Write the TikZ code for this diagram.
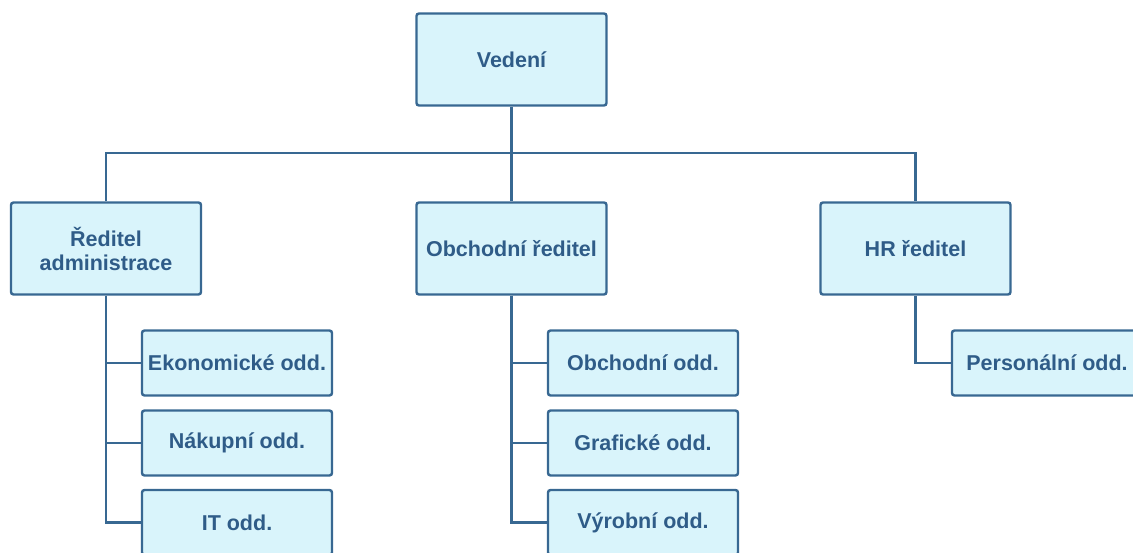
\documentclass[tikz,border=0pt]{standalone}
\usepackage{fontspec}
\setmainfont{Liberation Sans}
\definecolor{boxline}{HTML}{386892}
\definecolor{boxfill}{HTML}{D9F4FB}
\definecolor{boxtext}{HTML}{2F5C88}
\begin{document}
\begin{tikzpicture}[x=1pt,y=-1pt,
  orgbox/.style={draw=boxline, fill=boxfill, line width=2.4pt, rounded corners=2.5pt,
    text=boxtext, font=\bfseries\fontsize{21.5}{24}\selectfont, align=center,
    inner sep=0pt, minimum width=190pt},
  bigbox/.style={orgbox, minimum height=92pt},
  smallbox/.style={orgbox, minimum height=65pt},
  conn/.style={draw=boxline, line width=2.4pt}]
\useasboundingbox (0,0) rectangle (1133,553);
\clip (0,0) rectangle (1133,553);
\node[bigbox] (ved) at (511.5,59.5) {Vedení};
\node[bigbox] (adm) at (106,248.5) {Ředitel\\administrace};
\node[bigbox] (obc) at (511.5,248.5) {Obchodní ředitel};
\node[bigbox] (hr) at (915.5,248.5) {HR ředitel};
\node[smallbox] (eko) at (237,363) {Ekonomické odd.};
\node[smallbox] (nak) at (237,443) {Nákupní odd.};
\node[smallbox] (it) at (237,522.5) {IT odd.};
\node[smallbox] (obo) at (643,363) {Obchodní odd.};
\node[smallbox] (gra) at (643,443) {Grafické odd.};
\node[smallbox] (vyr) at (643,522.5) {Výrobní odd.};
\node[smallbox] (per) at (1047,363) {Personální odd.};
\coordinate (bus) at (511.5,153);
\draw[conn] (ved.south) -- (obc.north);
\draw[conn] (adm.north) |- (bus) -| (hr.north);
\draw[conn] (adm.south) |- (eko.west);
\draw[conn] (adm.south) |- (nak.west);
\draw[conn] (adm.south) |- (it.west);
\draw[conn] (obc.south) |- (obo.west);
\draw[conn] (obc.south) |- (gra.west);
\draw[conn] (obc.south) |- (vyr.west);
\draw[conn] (hr.south) |- (per.west);
\end{tikzpicture}
\end{document}
